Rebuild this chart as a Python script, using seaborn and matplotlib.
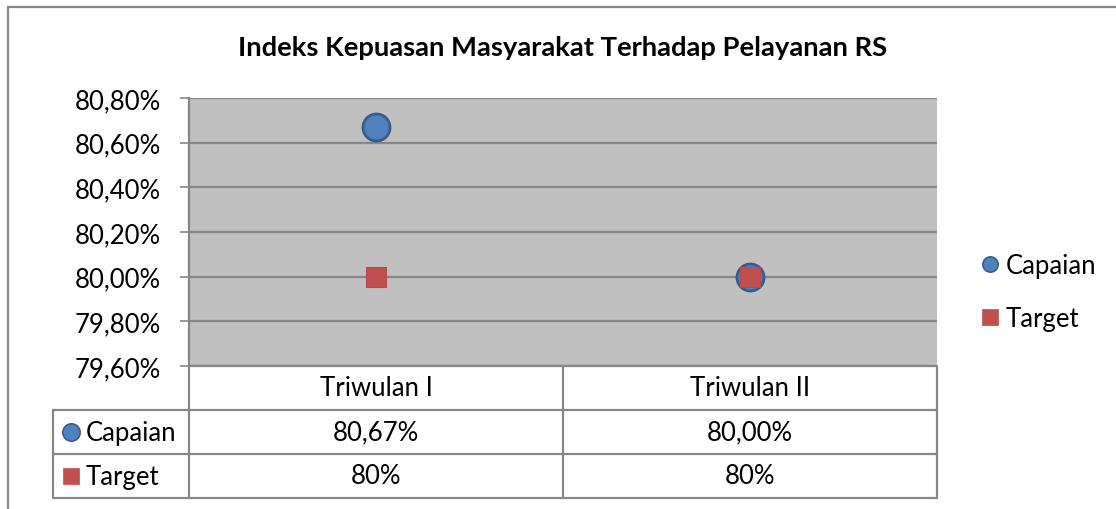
import matplotlib
matplotlib.use("Agg")
import matplotlib.pyplot as plt
import matplotlib.transforms as mtransforms
from matplotlib.lines import Line2D
from matplotlib.patches import Rectangle
import pandas as pd
import seaborn as sns

# ---- data ----
categories = ["Triwulan I", "Triwulan II"]
series_names = ["Capaian", "Target"]
capaian = [80.67, 80.00]
target = [80.0, 80.0]
capaian_labels = ["80,67%", "80,00%"]
target_labels = ["80%", "80%"]
title = "Indeks Kepuasan Masyarakat Terhadap Pelayanan RS"
y_ticks = [79.6, 79.8, 80.0, 80.2, 80.4, 80.6, 80.8]

sns.set_theme(style="white")
plt.rcParams["font.family"] = ["Lato", "DejaVu Sans"]
plt.rcParams["text.color"] = "black"

W, H = 1116, 510
fig = plt.figure(figsize=(W / 100, H / 100), dpi=100)
fig.patch.set_facecolor("white")

GRID = "#878787"
BLUE = "#4f81bd"
BLUE_E = "#385d8a"
RED = "#c0504d"
FS = 18.5

# plot area in pixels
L, R, T, B = 189, 937, 99, 367
ax = fig.add_axes([L / W, 1 - B / H, (R - L) / W, (B - T) / H])
ax.set_facecolor("#c0c0c0")

df_c = pd.DataFrame({"cat": categories, "val": capaian})
df_t = pd.DataFrame({"cat": categories, "val": target})
sns.scatterplot(data=df_c, x="cat", y="val", marker="o", s=380, color=BLUE,
                edgecolor=BLUE_E, linewidth=2, ax=ax, legend=False, zorder=3)
sns.scatterplot(data=df_t, x="cat", y="val", marker="s", s=190, color=RED,
                edgecolor="#b94b48", linewidth=0.8, ax=ax, legend=False, zorder=4)

ax.set_xlim(-0.5, len(categories) - 0.5)
ax.set_ylim(y_ticks[0], y_ticks[-1])
ax.set_yticks(y_ticks)
ax.set_yticklabels([f"{v:.2f}".replace(".", ",") + "%" for v in y_ticks], fontsize=FS)
ax.set_xticks([])
ax.set_xlabel("")
ax.set_ylabel("")
for v in y_ticks:
    ax.axhline(v, color=GRID, lw=1.6, zorder=1)
for s in ["top", "right", "bottom"]:
    ax.spines[s].set_visible(False)
ax.spines["left"].set_color(GRID)
ax.spines["left"].set_linewidth(1.6)
ax.tick_params(axis="y", which="major", left=True, length=6.5, width=1.2,
               color=GRID, pad=14, labelcolor="black")

ax.set_title(title, fontsize=19.7, fontweight="bold", pad=0, color="black",
             y=(B - 48) / (B - T), va="center")

# ---- data table ----
trans = mtransforms.blended_transform_factory(ax.transAxes, ax.transAxes)
def ay(py):
    return (B - py) / (B - T)
def axx(px):
    return (px - L) / (R - L)

rows_y = [367, 411, 455, 499]
line_kw = dict(color=GRID, lw=1.6, transform=trans, clip_on=False, zorder=5)
# horizontal lines
ax.plot([0, 1], [ay(367), ay(367)], **line_kw)
for py in rows_y[1:]:
    ax.plot([axx(53), 1], [ay(py), ay(py)], **line_kw)
# vertical lines
mid = axx(563)
ax.plot([0, 0], [ay(367), ay(499)], **line_kw)
ax.plot([mid, mid], [ay(367), ay(499)], **line_kw)
ax.plot([1, 1], [ay(367), ay(499)], **line_kw)
ax.plot([axx(53), axx(53)], [ay(411), ay(499)], **line_kw)

tx = mtransforms.blended_transform_factory(ax.transData, ax.transAxes)
for i, c in enumerate(categories):
    ax.text(i, ay(389), c, transform=tx, ha="center", va="center", fontsize=FS)
    ax.text(i, ay(433), capaian_labels[i], transform=tx, ha="center", va="center", fontsize=FS)
    ax.text(i, ay(477), target_labels[i], transform=tx, ha="center", va="center", fontsize=FS)

ax.plot([axx(71)], [ay(433)], marker="o", ms=12.5, mfc=BLUE, mec=BLUE_E, mew=1.2,
        transform=trans, clip_on=False)
ax.plot([axx(71)], [ay(477)], marker="s", ms=12, mfc=RED, mec=RED, mew=0.5,
        transform=trans, clip_on=False)
ax.text(axx(86), ay(433), series_names[0], transform=trans, ha="left", va="center", fontsize=FS)
ax.text(axx(86), ay(477), series_names[1], transform=trans, ha="left", va="center", fontsize=FS)

# ---- legend ----
handles = [
    Line2D([], [], marker="o", ls="", ms=11, mfc=BLUE, mec=BLUE_E, mew=1.2),
    Line2D([], [], marker="s", ls="", ms=11, mfc=RED, mec=RED, mew=0.5),
]
fig.legend(handles, series_names, loc="upper left",
           bbox_to_anchor=(967 / W, 1 - 241 / H), frameon=False, fontsize=FS,
           handlelength=0.8, handletextpad=0.2, labelspacing=1.1, borderpad=0)

# ---- outer chart border ----
fig.patches.append(Rectangle((8 / W, -0.2), 2.0, 1.2 - 8 / H, transform=fig.transFigure,
                             fill=False, ec=GRID, lw=1.6, zorder=0))

fig.savefig("out.png", dpi=100)
